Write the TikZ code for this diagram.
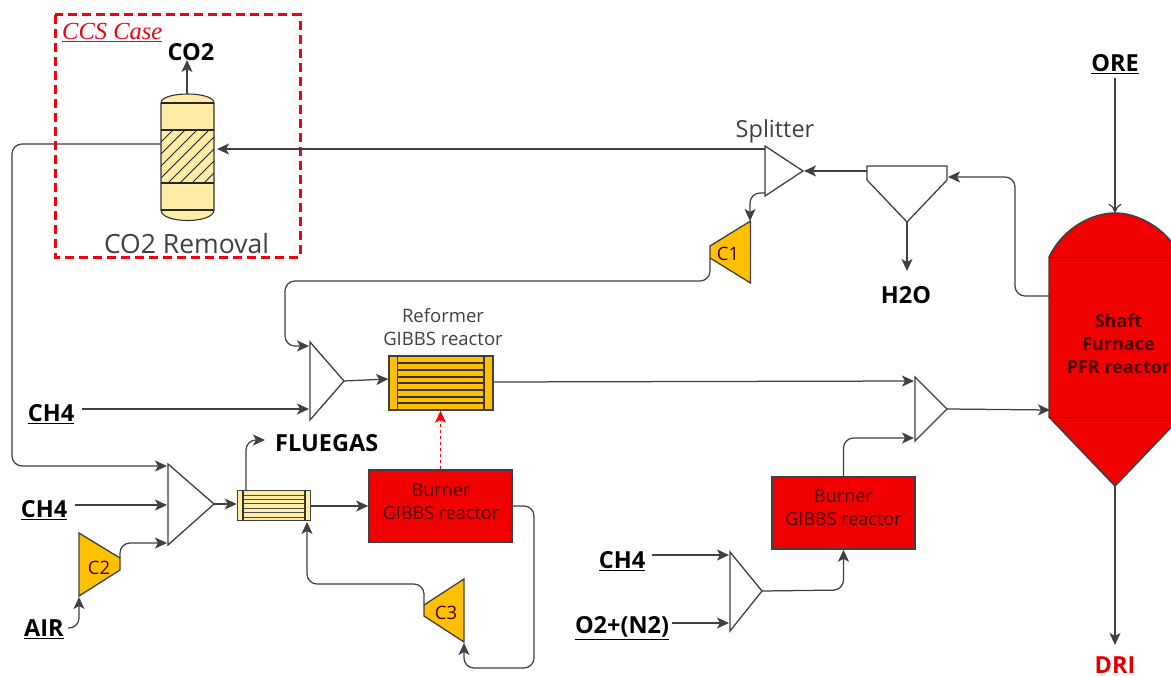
\documentclass[tikz,border=0pt]{standalone}
\usepackage{fontspec}
\setmainfont{Open Sans}
\newfontfamily\serifcase{Liberation Serif}
\usetikzlibrary{arrows.meta}
\definecolor{flow}{HTML}{404040}
\definecolor{pale}{HTML}{FFEDA6}
\definecolor{gold}{HTML}{FFC000}
\definecolor{hot}{HTML}{F00000}
\definecolor{maroon}{HTML}{4A0000}
\definecolor{dash}{HTML}{F00010}
\tikzset{
  flowline/.style={draw=flow,line width=1.25pt,rounded corners=10pt,-{Stealth[length=12pt,width=11pt,inset=3pt]}},
  unit/.style={draw=flow,line width=1.3pt,fill=white,line join=miter},
  comp/.style={draw=flow,line width=1.3pt,fill=gold,line join=miter},
  streamlabel/.style={font=\fontsize{23.5}{26}\selectfont\bfseries,text=black,inner sep=0pt},
  plainlabel/.style={font=\fontsize{18.5}{23}\selectfont,text=flow,inner sep=0pt,align=center},
  burner/.style={draw=flow,line width=1.6pt,fill=hot,minimum width=143pt,minimum height=72pt,inner sep=0pt},
  burnertext/.style={inner sep=0pt,align=center,text=maroon,font=\fontsize{18}{23}\selectfont},
  hx/.style={draw=flow,line width=1.5pt,inner sep=0pt},
}
\begin{document}
\begin{tikzpicture}[x=1pt,y=-1pt]
\useasboundingbox (0,0) rectangle (1171,677);
\fill[white] (0,0) rectangle (1171,677);

% named ports
\coordinate (colTop) at (187,94);
\coordinate (colLeft) at (161,144);
\coordinate (colRight) at (217,149);
\coordinate (splIn) at (804,171);
\coordinate (splTop) at (765,149);
\coordinate (splBot) at (765,193);
\coordinate (sepOut) at (867,171);
\coordinate (sepIn) at (948,177);
\coordinate (sepTip) at (907,222);
\coordinate (h2oEnd) at (907,271);
\coordinate (c1Top) at (750,221);
\coordinate (c1Out) at (710,258);
\coordinate (mixAIn1) at (309,346);
\coordinate (mixAIn2) at (309,409);
\coordinate (mixATip) at (344,381);
\coordinate (mixBIn1) at (167,466);
\coordinate (mixBIn2) at (167,505);
\coordinate (mixBIn3) at (167,543);
\coordinate (mixBTip) at (214,504);
\coordinate (mixCIn1) at (729,555);
\coordinate (mixCIn2) at (729,623);
\coordinate (mixCTip) at (762,591);
\coordinate (mixDIn1) at (914,381);
\coordinate (mixDIn2) at (914,438);
\coordinate (mixDTip) at (947,409);
\coordinate (c2In) at (79,597);
\coordinate (c2Out) at (120,558);
\coordinate (c3In) at (464,643);
\coordinate (c3Out) at (424,605);
\coordinate (furnTop) at (1115,213);
\coordinate (furnBot) at (1115,486);
\coordinate (furnLeft) at (1049,296);
\coordinate (furnIn) at (1050,410);

% CCS dashed box
\draw[draw=dash,line width=3pt,dash pattern=on 9pt off 5pt] (55,15) rectangle (300,257);
\node[inner sep=0pt,text=dash,anchor=west,font=\serifcase\itshape\fontsize{24.5}{27}\selectfont] (ccs) at (62,33) {\underline{CCS Case}};

% absorber column
\draw[draw=black!80,line width=1.1pt,fill=pale] (161,103) .. controls (161,91) and (214,91) .. (214,103) -- (214,210) .. controls (214,224) and (161,224) .. (161,210) -- cycle;
\begin{scope}
\clip (161,130) rectangle (214,183);
\foreach \k in {-12,0,...,132}{
  \draw[black!85,line width=.9pt] (161+\k-53,183) -- (161+\k,130);
}
\end{scope}
\draw[black!85,line width=1.1pt] (161,103) -- (214,103) (161,130) -- (214,130) (161,183) -- (214,183) (161,210) -- (214,210);
\node[inner sep=0pt,text=flow,font=\fontsize{26.5}{30}\selectfont] (colLabel) at (186.5,244) {CO2 Removal};
\node[streamlabel] (co2) at (191,52) {CO2};

% separator, splitter, compressors, mixers
\draw[unit] (765,146) -- (803,171) -- (765,196) -- cycle;
\draw[unit] (867,166) -- (947,166) -- (947,180) -- (907,222) -- (867,180) -- cycle;
\draw[comp] (750.5,221) -- (750.5,283) -- (710,258) -- (710,246) -- cycle;
\draw[comp] (79,533) -- (120,558) -- (120,570) -- (79,596) -- cycle;
\draw[comp] (464,579) -- (464,642) -- (424,616) -- (424,605) -- cycle;
\draw[unit] (310,342) -- (344,381) -- (310,420) -- cycle;
\draw[unit] (168,464) -- (214,504) -- (168,545) -- cycle;
\draw[unit] (730,552) -- (762,591) -- (730,631) -- cycle;
\draw[unit] (915,377) -- (947,409) -- (915,441) -- cycle;
\node[plainlabel,text=maroon] (c1) at (728,254) {C1};
\node[plainlabel,text=maroon] (c2) at (99,568) {C2};
\node[plainlabel,text=maroon] (c3) at (446,613) {C3};
\node[inner sep=0pt,text=flow,font=\fontsize{23.5}{26}\selectfont] (splitter) at (775,131) {Splitter};

% reformer
\node[hx,fill=gold,minimum width=104pt,minimum height=54pt] (reformer) at (441,383) {};
\foreach \yy in {363,370,377,383,390,397,403}
  \draw[draw=black!80,line width=1.1pt] (397.5,\yy) -- (484,\yy);
\draw[draw=black!80,line width=1.1pt] (397.5,356) -- (397.5,410) (484,356) -- (484,410);
\node[plainlabel] (refLabel) at (443,327.5) {Reformer\\GIBBS reactor};

% flue gas exchanger
\node[hx,fill=pale,minimum width=73pt,minimum height=30pt] (preheat) at (274,505.5) {};
\foreach \yy in {495,499,503.5,508,512,517}
  \draw[draw=black!70,line width=1pt] (243,\yy) -- (305,\yy);
\draw[draw=black!80,line width=1.1pt] (243,491) -- (243,521) (305,491) -- (305,521);

% burners
\node[burner] (burnA) at (440.5,506) {};
\node[burner] (burnB) at (843.5,513) {};
\node[burnertext] (burnAText) at (441,501.5) {Burner\\GIBBS reactor};
\node[burnertext] (burnBText) at (843.5,508) {Burner\\GIBBS reactor};

% furnace
\begin{scope}
\clip (0,0) rectangle (1171,677);
\draw[draw=flow,line width=1.5pt,fill=hot] (1049,257) .. controls (1065,225) and (1095,213) .. (1115,213) .. controls (1135,213) and (1165,225) .. (1181,257) -- (1181,417) -- (1115,486) -- (1049,417) -- cycle;
\draw[black!85,line width=1pt] (1049,257) -- (1181,257) (1049,417) -- (1181,417);
\end{scope}
\node[inner sep=0pt,align=center,text=maroon,font=\fontsize{18}{23}\selectfont\bfseries] (furnace) at (1118.5,344) {Shaft\\Furnace\\PFR reactor};

% stream labels
\node[streamlabel] (ore) at (1115,64) {\underline{ORE}};
\node[streamlabel,text=red!90!black] (dri) at (1115,665) {DRI};
\node[streamlabel] (h2o) at (906,295) {H2O};
\node[streamlabel,anchor=west] (flue) at (275,443) {FLUEGAS};
\node[streamlabel] (ch4a) at (51,414) {\underline{CH4}};
\node[streamlabel] (ch4b) at (44,510) {\underline{CH4}};
\node[streamlabel] (ch4c) at (622,561) {\underline{CH4}};
\node[streamlabel] (o2) at (622,628) {\underline{O2+(N2)}};
\node[streamlabel] (air) at (44,629) {\underline{AIR}};

% connectors
\draw[flowline] (colTop) -- (187,60);
\draw[flowline] (colLeft) -- (12,144) -- (12,466) -- (mixBIn1);
\draw[flowline] (splTop) -- (colRight);
\draw[flowline] (sepOut) -- (splIn);
\draw[flowline] (furnLeft) -- (1015,296) -- (1015,177) -- (sepIn);
\draw[flowline] (sepTip) -- (h2oEnd);
\draw[flowline] (splBot) -- (750,193) -- (c1Top);
\draw[flowline] (c1Out) -- (710,281) -- (285,281) -- (285,346) -- (mixAIn1);
\draw[flowline] (82,409) -- (mixAIn2);
\draw[flowline] (mixATip) -- (reformer.west |- 0,379);
\draw[flowline] (reformer.east |- 0,382) -- (mixDIn1);
\draw[flowline] (mixDTip) -- (furnIn);
\draw[flowline] (burnB.north) -- (843.5,438) -- (mixDIn2);
\draw[flowline] (mixCTip) -- (843.5,590) -- (burnB.south);
\draw[flowline] (652,555) -- (mixCIn1);
\draw[flowline] (672,623) -- (mixCIn2);
\draw[draw=red,line width=1.25pt,dash pattern=on 3.5pt off 2.5pt,-{Stealth[length=12pt,width=11pt,inset=3pt,fill=red]}] (burnA.north) -- (burnA.north |- reformer.south);
\draw[flowline] (75,505) -- (mixBIn2);
\draw[flowline] (c2Out) -- (120,543) -- (mixBIn3);
\draw[flowline] (68,628) -- (79,628) -- (c2In);
\draw[flowline] (mixBTip) -- (preheat.west |- 0,504);
\draw[flowline] (preheat.east |- 0,506) -- (burnA.west |- 0,506);
\draw[flowline] (246,490) -- (246,440) -- (265,440);
\draw[flowline] (c3Out) -- (424,584) -- (307,584) -- (307,522);
\draw[flowline] (burnA.east |- 0,506) -- (534,506) -- (534,668) -- (464,668) -- (c3In);
\draw[flowline,-{To[length=9pt,width=13pt]}] (1115,78) -- (furnTop);
\draw[flowline] (furnBot) -- (1115,645);
\end{tikzpicture}
\end{document}
